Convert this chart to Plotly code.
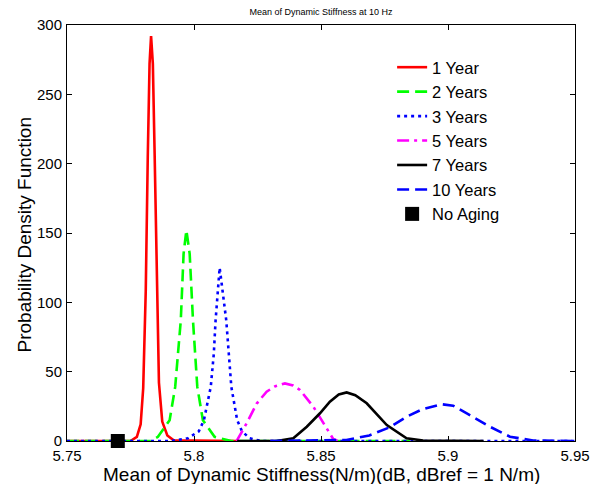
import plotly.graph_objects as go

# ---- data ----
x_1y = [5.750, 5.775, 5.7775, 5.7790, 5.7800, 5.7810, 5.7818, 5.7825, 5.7831, 5.7838, 5.7845, 5.7853, 5.7862, 5.7875, 5.7895, 5.7920, 5.8170]
y_1y = [0, 0, 3, 12, 38, 108, 205, 272, 292, 272, 207, 115, 42, 14, 4, 0.5, 0]

x_2y = [5.750, 5.783, 5.7858, 5.7904, 5.7926, 5.7948, 5.7959, 5.7970, 5.7983, 5.7996, 5.8013, 5.8035, 5.8081, 5.8147, 5.8850]
y_2y = [0, 0, 3, 15, 39, 87, 135, 152, 135, 87, 39, 15, 3, 0, 0]

x_3y = [5.750, 5.7911, 5.7976, 5.8019, 5.8039, 5.8066, 5.8078, 5.8085, 5.8101, 5.8127, 5.8137, 5.8147, 5.8170, 5.8189, 5.8219, 5.8264, 5.950]
y_3y = [0, 0, 2, 7, 15, 39, 63, 87, 125, 87, 63, 39, 15, 7, 2, 0, 0]

x_5y = [5.8168, 5.8207, 5.8247, 5.8286, 5.8320, 5.8358, 5.8390, 5.8417, 5.8470, 5.8509, 5.8548, 5.8565]
y_5y = [0, 12.7, 27, 35.6, 39.5, 41.5, 40, 36.8, 24.7, 12.7, 1.5, 0]

x_7y = [5.8170, 5.8326, 5.8391, 5.8444, 5.8496, 5.8535, 5.8570, 5.8601, 5.8635, 5.8680, 5.8759, 5.8837, 5.8902, 5.9140]
y_7y = [0, 0, 2, 10.3, 20, 28.4, 33.5, 35, 33, 27.2, 11.5, 2, 0.3, 0]

x_10y = [5.830, 5.8600, 5.8690, 5.8772, 5.8837, 5.8900, 5.8975, 5.9020, 5.9074, 5.9165, 5.9244, 5.9335, 5.950]
y_10y = [0, 0.7, 4, 10, 17.5, 23, 26.5, 25.5, 20, 10.3, 3.1, 0.3, 0]

x_noaging = [5.770]
y_noaging = [0]

x_ticks = [5.75, 5.8, 5.85, 5.9, 5.95]
x_ticklabels = ["5.75", "5.8", "5.85", "5.9", "5.95"]
y_ticks = [0, 50, 100, 150, 200, 250, 300]

series = [
    ("1 Year", x_1y, y_1y, "#ff0000", "solid"),
    ("2 Years", x_2y, y_2y, "#00ff00", "12px,6px"),
    ("3 Years", x_3y, y_3y, "#0000ff", "3px,4px"),
    ("5 Years", x_5y, y_5y, "#ff00ff", "12px,5px,3px,5px"),
    ("7 Years", x_7y, y_7y, "#000000", "solid"),
    ("10 Years", x_10y, y_10y, "#0000ff", "12px,6px"),
]

FONT = "Liberation Sans, Arial, sans-serif"

fig = go.Figure()
for name, xs, ys, col, dash in series:
    fig.add_trace(go.Scatter(x=xs, y=ys, mode="lines", name=name,
                             line=dict(color=col, width=2.6, dash=dash),
                             cliponaxis=False))
fig.add_trace(go.Scatter(x=x_noaging, y=y_noaging, mode="markers", name="No Aging",
                         marker=dict(symbol="square", size=14, color="black"),
                         cliponaxis=False))

axis_common = dict(showline=True, linecolor="black", linewidth=1, mirror="ticks",
                   ticks="inside", ticklen=5, tickcolor="black", showgrid=False,
                   zeroline=False, automargin=False,
                   tickfont=dict(family=FONT, size=15, color="black"))

fig.update_layout(
    width=592, height=484,
    margin=dict(l=67, r=17, t=25, b=43),
    paper_bgcolor="white", plot_bgcolor="white",
    title=dict(text="Mean of Dynamic Stiffness at 10 Hz", x=0.5, xanchor="center",
               y=0.975, yanchor="middle", xref="paper",
               font=dict(family=FONT, size=9, color="black")),
    xaxis=dict(range=[5.75, 5.95], tickvals=x_ticks, ticktext=x_ticklabels,
               ticklabelstandoff=1, **axis_common),
    yaxis=dict(range=[0, 300], tickvals=y_ticks, ticklabelstandoff=1, **axis_common),
    legend=dict(x=0.64, y=0.94, xanchor="left", yanchor="top",
                bgcolor="rgba(255,255,255,0)", borderwidth=0,
                font=dict(family=FONT, size=16.5, color="black"),
                tracegroupgap=0, itemwidth=30),
    showlegend=True,
    annotations=[
        dict(text="Mean of Dynamic Stiffness(N/m)(dB, dBref = 1 N/m)", xref="paper", yref="paper",
             x=0.5, y=-0.05, xanchor="center", yanchor="top", showarrow=False,
             font=dict(family=FONT, size=19, color="black")),
        dict(text="Probability Density Function", xref="paper", yref="paper",
             x=-0.083, y=0.496, xanchor="center", yanchor="middle", showarrow=False,
             textangle=-90, font=dict(family=FONT, size=19, color="black")),
    ],
)

fig.write_html("out.html", config={"displayModeBar": False},
               post_script="document.body.style.margin='0px';")
